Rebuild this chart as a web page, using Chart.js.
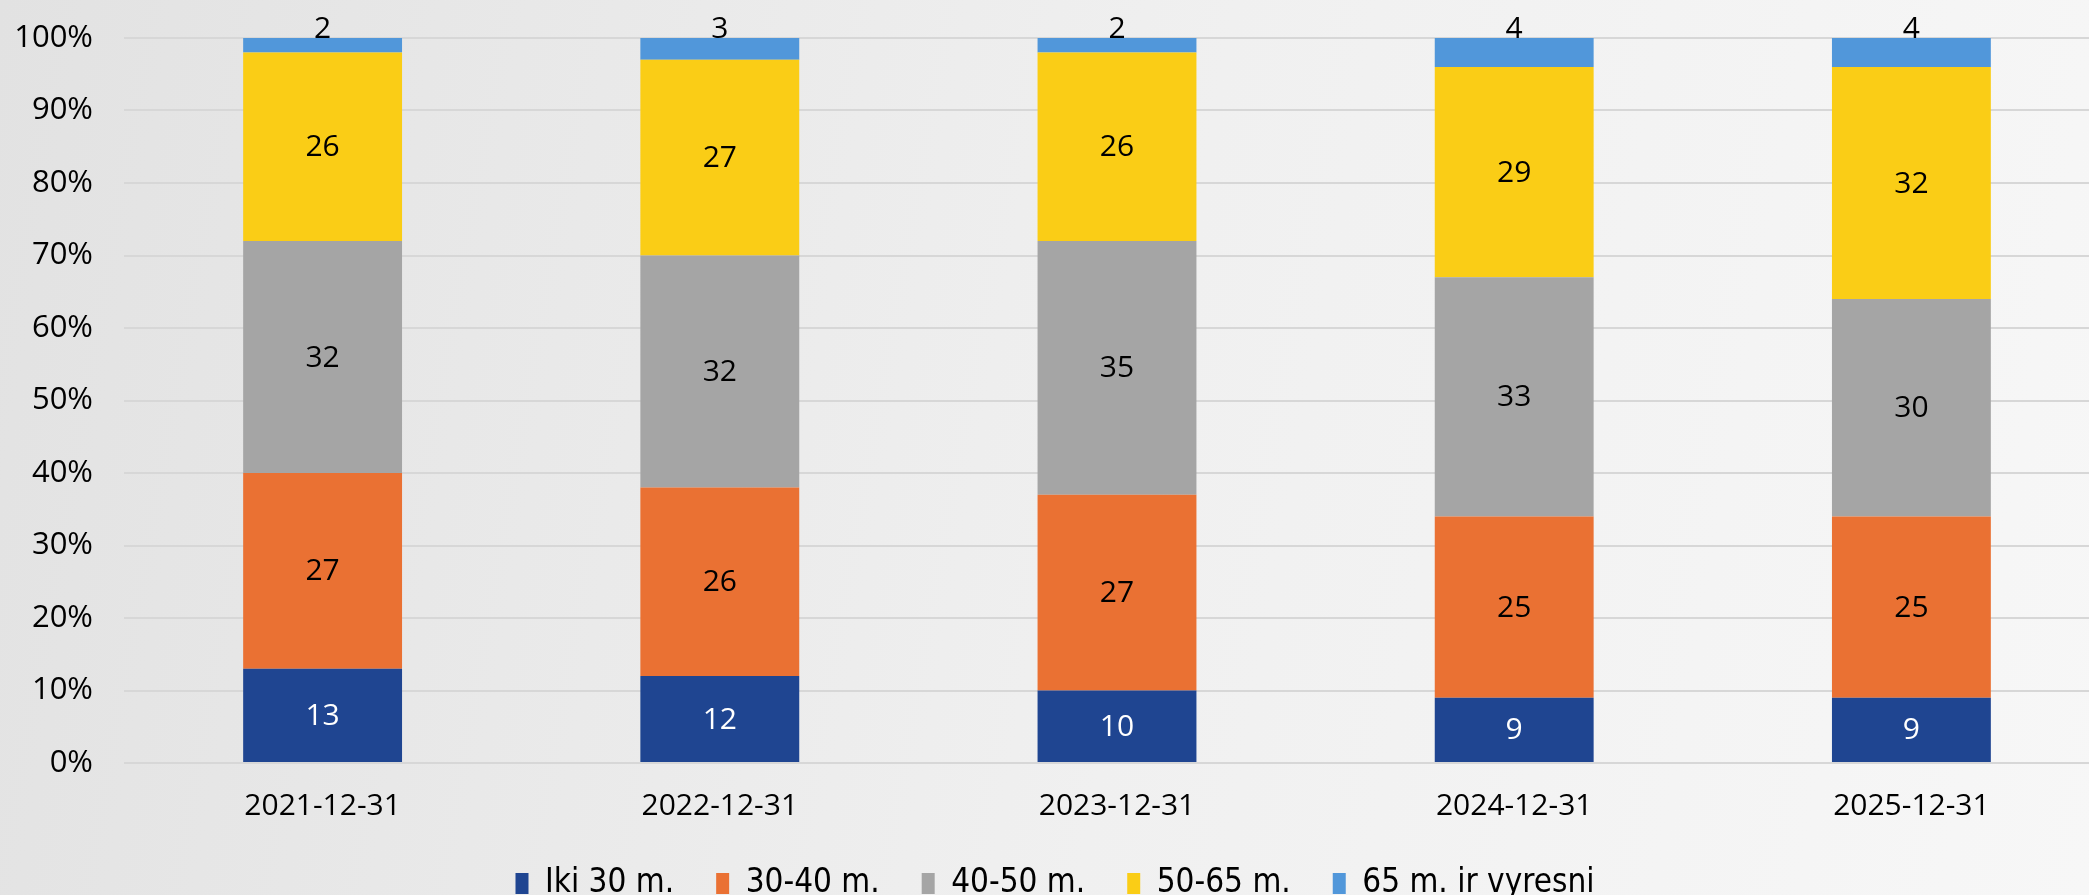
<!DOCTYPE html>
<html>
<head>
<meta charset="utf-8">
<script src="https://cdn.jsdelivr.net/npm/chart.js@4"></script>
<style>
    html, body { margin: 0; padding: 0; overflow: hidden; }
    body { width: 2089px; height: 895px; background: linear-gradient(100deg, #e2e2e2 0%, #f0f0f0 55%, #f7f7f7 100%); }
    #wrap { width: 2110px; height: 895px; }
</style>
</head>
<body>
<div id="wrap"><canvas id="ageChart"></canvas></div>
<script>
// categories and series (share of employees by age group, %)
const dates = ['2021-12-31', '2022-12-31', '2023-12-31', '2024-12-31', '2025-12-31'];
const seriesNames = ['Iki 30 m.', '30-40 m.', '40-50 m.', '50-65 m.', '65 m. ir vyresni'];
const under30 = [13, 12, 10, 9, 9];
const from30to40 = [27, 26, 27, 25, 25];
const from40to50 = [32, 32, 35, 33, 30];
const from50to65 = [26, 27, 26, 29, 32];
const over65 = [2, 3, 2, 4, 4];
const yTicks = [0, 10, 20, 30, 40, 50, 60, 70, 80, 90, 100];

const colors = ['#1f4591', '#ea7133', '#a5a5a5', '#facd16', '#5197da'];
const labelColors = ['#ffffff', '#000000', '#000000', '#000000', '#000000'];
const mainFont = "'Open Sans', 'Noto Sans', sans-serif";

// draw the numbers inside the segments (top series sits above the bar)
const valueLabels = {
    id: 'valueLabels',
    afterDatasetsDraw(chart) {
        const ctx = chart.ctx;
        ctx.save();
        ctx.font = '30px ' + mainFont;
        ctx.textAlign = 'center';
        chart.data.datasets.forEach((ds, i) => {
            const meta = chart.getDatasetMeta(i);
            meta.data.forEach((bar, j) => {
                ctx.fillStyle = labelColors[i];
                if (i === chart.data.datasets.length - 1) {
                    ctx.textBaseline = 'bottom';
                    ctx.fillText(ds.data[j], bar.x, bar.y + 6);
                } else {
                    ctx.textBaseline = 'middle';
                    ctx.fillText(ds.data[j], bar.x, (bar.y + bar.base) / 2 + 1);
                }
            });
        });
        ctx.restore();
    }
};

const seriesData = [under30, from30to40, from40to50, from50to65, over65];

new Chart(document.getElementById('ageChart'), {
    type: 'bar',
    data: {
        labels: dates,
        datasets: seriesNames.map((name, i) => ({
            label: name,
            data: seriesData[i],
            backgroundColor: colors[i],
            borderWidth: 0,
            barPercentage: 1,
            categoryPercentage: 0.4
        }))
    },
    options: {
        responsive: true,
        maintainAspectRatio: false,
        animation: false,
        layout: { padding: { top: 38, left: 0, right: 0, bottom: -15 } },
        scales: {
            x: {
                stacked: true,
                grid: { display: false },
                border: { display: false },
                ticks: { color: '#000', font: { family: mainFont, size: 30 }, padding: 17 },
                afterFit: scale => { scale.height = 62; }
            },
            y: {
                stacked: true,
                min: 0,
                max: 100,
                afterBuildTicks: scale => { scale.ticks = yTicks.map(v => ({ value: v })); },
                grid: { color: '#d7d7d7', lineWidth: 2, drawTicks: false },
                border: { display: false },
                ticks: {
                    color: '#000',
                    font: { family: mainFont, size: 31 },
                    padding: 31,
                    callback: v => v + '%'
                },
                afterFit: scale => {
                    scale.width = 124;
                    scale.paddingTop = 0;
                    scale.paddingBottom = 0;
                }
            }
        },
        plugins: {
            tooltip: { enabled: false },
            legend: {
                position: 'bottom',
                labels: {
                    color: '#000',
                    font: { family: "'DejaVu Sans Condensed', 'DejaVu Sans', sans-serif", size: 33 },
                    boxWidth: 13,
                    boxHeight: 21,
                    padding: 42
                }
            }
        }
    },
    plugins: [valueLabels]
});
</script>
</body>
</html>
